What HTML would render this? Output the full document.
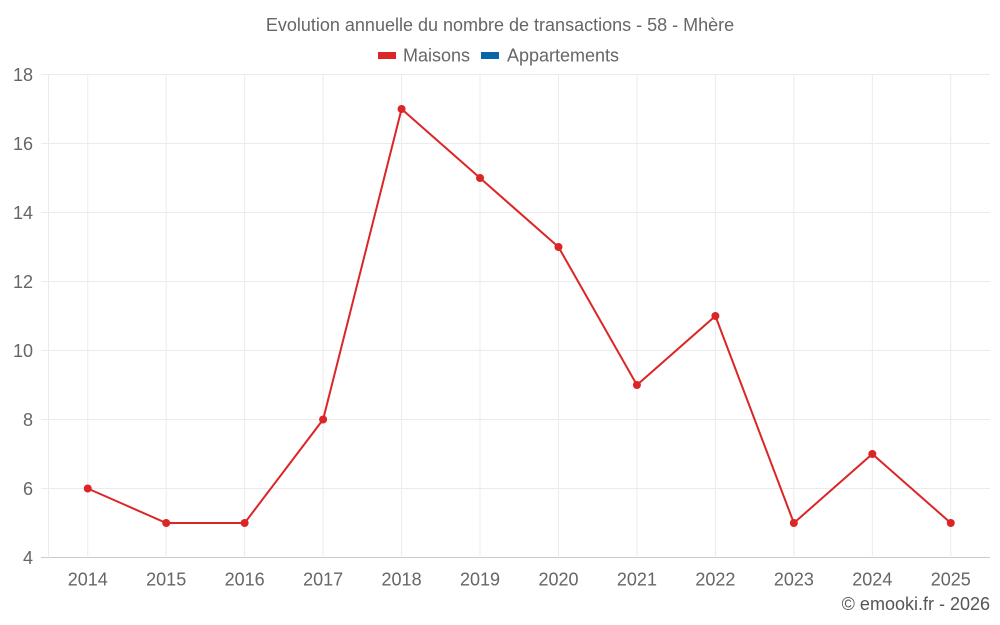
<!DOCTYPE html>
<html><head><meta charset="utf-8"><style>
body{margin:0;background:#fff;}
svg{display:block;font-family:"Liberation Sans",sans-serif;}
</style></head><body>
<svg id="chart" width="1000" height="625">
<text x="500" y="31" text-anchor="middle" font-size="18" fill="#666">Evolution annuelle du nombre de transactions - 58 - Mhère</text>
<g><rect x="378" y="52" width="18" height="7" fill="#dc2526"/><text x="403" y="61.5" font-size="18" fill="#666">Maisons</text></g>
<g><rect x="481" y="52" width="18" height="7" fill="#0766a7"/><text x="507" y="61.5" font-size="18" fill="#666">Appartements</text></g>
<g id="grid"></g><g id="series"></g>
<text x="990" y="610" text-anchor="end" font-size="18" fill="#555">© emooki.fr - 2026</text>
</svg>
<script>
const categories=["2014","2015","2016","2017","2018","2019","2020","2021","2022","2023","2024","2025"];
const maisons=[6,5,5,8,17,15,13,9,11,5,7,5];
const yTicks=[4,6,8,10,12,14,16,18];
const NS="http://www.w3.org/2000/svg";
const L=48.5,R=990,T=74.5,B=557.5,ymin=4,ymax=18;
const bw=(R-L)/categories.length;
const x=i=>L+bw*(i+0.5);
const y=v=>B-(v-ymin)/(ymax-ymin)*(B-T);
function mk(t,a,p){const e=document.createElementNS(NS,t);for(const k in a)e.setAttribute(k,a[k]);p.appendChild(e);return e;}
const g=document.getElementById('grid'),s=document.getElementById('series');
yTicks.forEach(v=>{
 const ln=mk('line',{x1:41,x2:R,y1:y(v),y2:y(v),stroke:v===ymin?'#ccc':'#ebebeb','stroke-width':1},g);
 
 
 const t=mk('text',{x:33,y:y(v)+6.5,'text-anchor':'end','font-size':18,fill:'#666'},g);t.textContent=v;
 
 
});
mk('line',{x1:L,x2:L,y1:T,y2:B,stroke:'#ebebeb'},g);
categories.forEach((c,i)=>{
 const ln=mk('line',{x1:x(i),x2:x(i),y1:T,y2:B,stroke:'#ebebeb'},g);
 
 
 const t=mk('text',{x:x(i),y:585.5,'text-anchor':'middle','font-size':18,fill:'#666'},g);t.textContent=c;
 
 
});
const pl=mk('polyline',{points:maisons.map((v,i)=>x(i)+','+y(v)).join(' '),fill:'none',stroke:'#dc2526','stroke-width':2},s);


maisons.forEach((v,i)=>{
 const c=mk('circle',{cx:x(i),cy:y(v),r:4,fill:'#dc2526'},s);
 
 
});
</script>
</body></html>
